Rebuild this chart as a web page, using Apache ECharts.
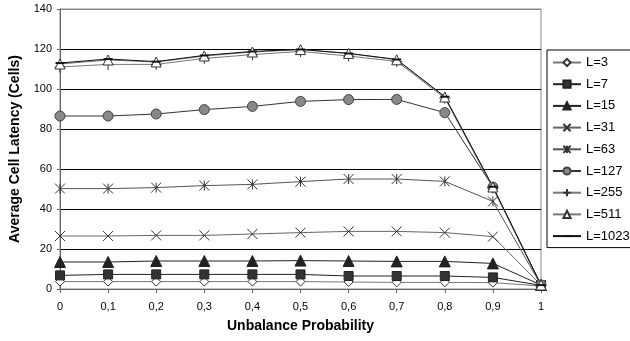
<!DOCTYPE html>
<html>
<head>
<meta charset="utf-8">
<script src="https://cdn.jsdelivr.net/npm/echarts@6/dist/echarts.min.js"></script>
<style>
  html, body { margin: 0; padding: 0; background: #fff; }
  #chart { width: 630px; height: 341px; }
</style>
</head>
<body>
<div id="chart"></div>
<script>
// x categories (unbalance probability)
var categories = ['0', '0,1', '0,2', '0,3', '0,4', '0,5', '0,6', '0,7', '0,8', '0,9', '1'];
var yTicks = [0, 20, 40, 60, 80, 100, 120, 140];

var seriesNames = ['L=3', 'L=7', 'L=15', 'L=31', 'L=63', 'L=127', 'L=255', 'L=511', 'L=1023'];

var l3    = [3.7, 3.7, 3.7, 3.7, 3.7, 3.7, 3.5, 3.3, 3.3, 3.2, 1.5];
var l7    = [6.8, 7.3, 7.3, 7.3, 7.3, 7.3, 6.5, 6.5, 6.5, 5.8, 1.8];
var l15   = [13.5, 13.5, 14, 14, 14, 14.2, 14, 13.8, 13.8, 12.8, 2];
var l31   = [26.5, 26.5, 26.8, 26.8, 27.5, 28.2, 28.8, 28.8, 28.2, 26.2, 2];
var l63   = [50.2, 50.2, 50.7, 51.7, 52.3, 53.7, 55, 55, 53.8, 43.8, 2];
var l127  = [86.5, 86.5, 87.5, 89.7, 91.3, 93.8, 94.7, 94.8, 88.2, 51, 2];
var l255  = [111, 112.3, 112.3, 115.3, 117.2, 118.8, 116.5, 113.8, 95.5, 50.5, 2];
var l511  = [112.5, 114.5, 113.5, 116.5, 118.5, 119.7, 117.8, 114.6, 96, 51, 2];
var l1023 = [113, 115, 113.7, 116.8, 118.8, 119.8, 117.8, 114.8, 96.2, 51.2, 2];

var chart = echarts.init(document.getElementById('chart'));

var xPath = 'path://M0,0L10,10M10,0L0,10';
var starPath = 'path://M0,0L10,10M10,0L0,10M5,0L5,10';
var plusPath = 'path://M5,0L5,10M0,5L10,5';
// square bounding box so the dash keeps its shape
var dashPath = 'path://M0,0M10,10M0,4L10,4L10,6.2L0,6.2Z';

function mk(name, data, lineColor, symbol, size, fill, border, bw) {
  return {
    name: name,
    type: 'line',
    data: data,
    symbol: symbol,
    symbolSize: size,
    showAllSymbol: true,
    lineStyle: { color: lineColor, width: 1 },
    itemStyle: { color: fill, borderColor: border, borderWidth: bw },
    emphasis: { disabled: true },
    animation: false
  };
}

var option = {
  backgroundColor: '#fff',
  textStyle: { fontFamily: 'Liberation Sans, Arial, sans-serif' },
  grid: {
    left: 60, right: 89, top: 9, bottom: 52,
    show: true, borderColor: '#888', borderWidth: 1
  },
  legend: {
    left: 547, top: 50,
    orient: 'vertical',
    itemWidth: 28, itemHeight: 9, itemGap: 8.7,
    padding: [6, 2, 5, 5],
    borderColor: '#000', borderWidth: 1,
    textStyle: { fontSize: 13, color: '#000', fontFamily: 'Liberation Sans, Arial, sans-serif' },
    data: seriesNames
  },
  xAxis: {
    type: 'category',
    data: categories,
    boundaryGap: false,
    name: 'Unbalance Probability',
    nameLocation: 'middle',
    nameGap: 30,
    nameTextStyle: { fontSize: 14, fontWeight: 'bold', color: '#000' },
    axisLine: { lineStyle: { color: '#666', width: 1 } },
    axisTick: { show: true, length: 4, lineStyle: { color: '#666' } },
    axisLabel: { fontSize: 11, color: '#000', margin: 12 },
    splitLine: { show: false }
  },
  yAxis: {
    type: 'value',
    min: 0, max: 140, interval: 20,
    name: 'Average Cell Latency (Cells)',
    nameLocation: 'middle',
    nameGap: 38,
    nameTextStyle: { fontSize: 14, fontWeight: 'bold', color: '#000' },
    axisLine: { show: true, lineStyle: { color: '#666', width: 1 } },
    axisTick: { show: true, length: 3, lineStyle: { color: '#666' } },
    axisLabel: {
      fontSize: 11, color: '#000', margin: 8,
      formatter: function (v) { return yTicks.indexOf(v) >= 0 ? String(v) : ''; }
    },
    splitLine: {
      show: true,
      lineStyle: { color: ['#000', '#000', '#000', '#000', '#000', '#000', '#000', '#888'], width: 1 }
    }
  },
  series: [
    mk('L=3', l3, '#777', 'diamond', 9, '#fff', '#333', 1),
    mk('L=7', l7, '#222', 'rect', 9, '#333', '#222', 1),
    mk('L=15', l15, '#222', 'triangle', 11, '#222', '#222', 1),
    mk('L=31', l31, '#666', xPath, 10, 'none', '#333', 1),
    mk('L=63', l63, '#555', starPath, 10, 'none', '#333', 1),
    mk('L=127', l127, '#333', 'circle', 10, '#888', '#444', 1),
    mk('L=255', l255, '#777', plusPath, 11, 'none', '#333', 1),
    mk('L=511', l511, '#777', 'triangle', 10, '#fff', '#333', 1),
    mk('L=1023', l1023, '#111', dashPath, 9, '#111', '#111', 0)
  ]
};

chart.setOption(option);
</script>
</body>
</html>
